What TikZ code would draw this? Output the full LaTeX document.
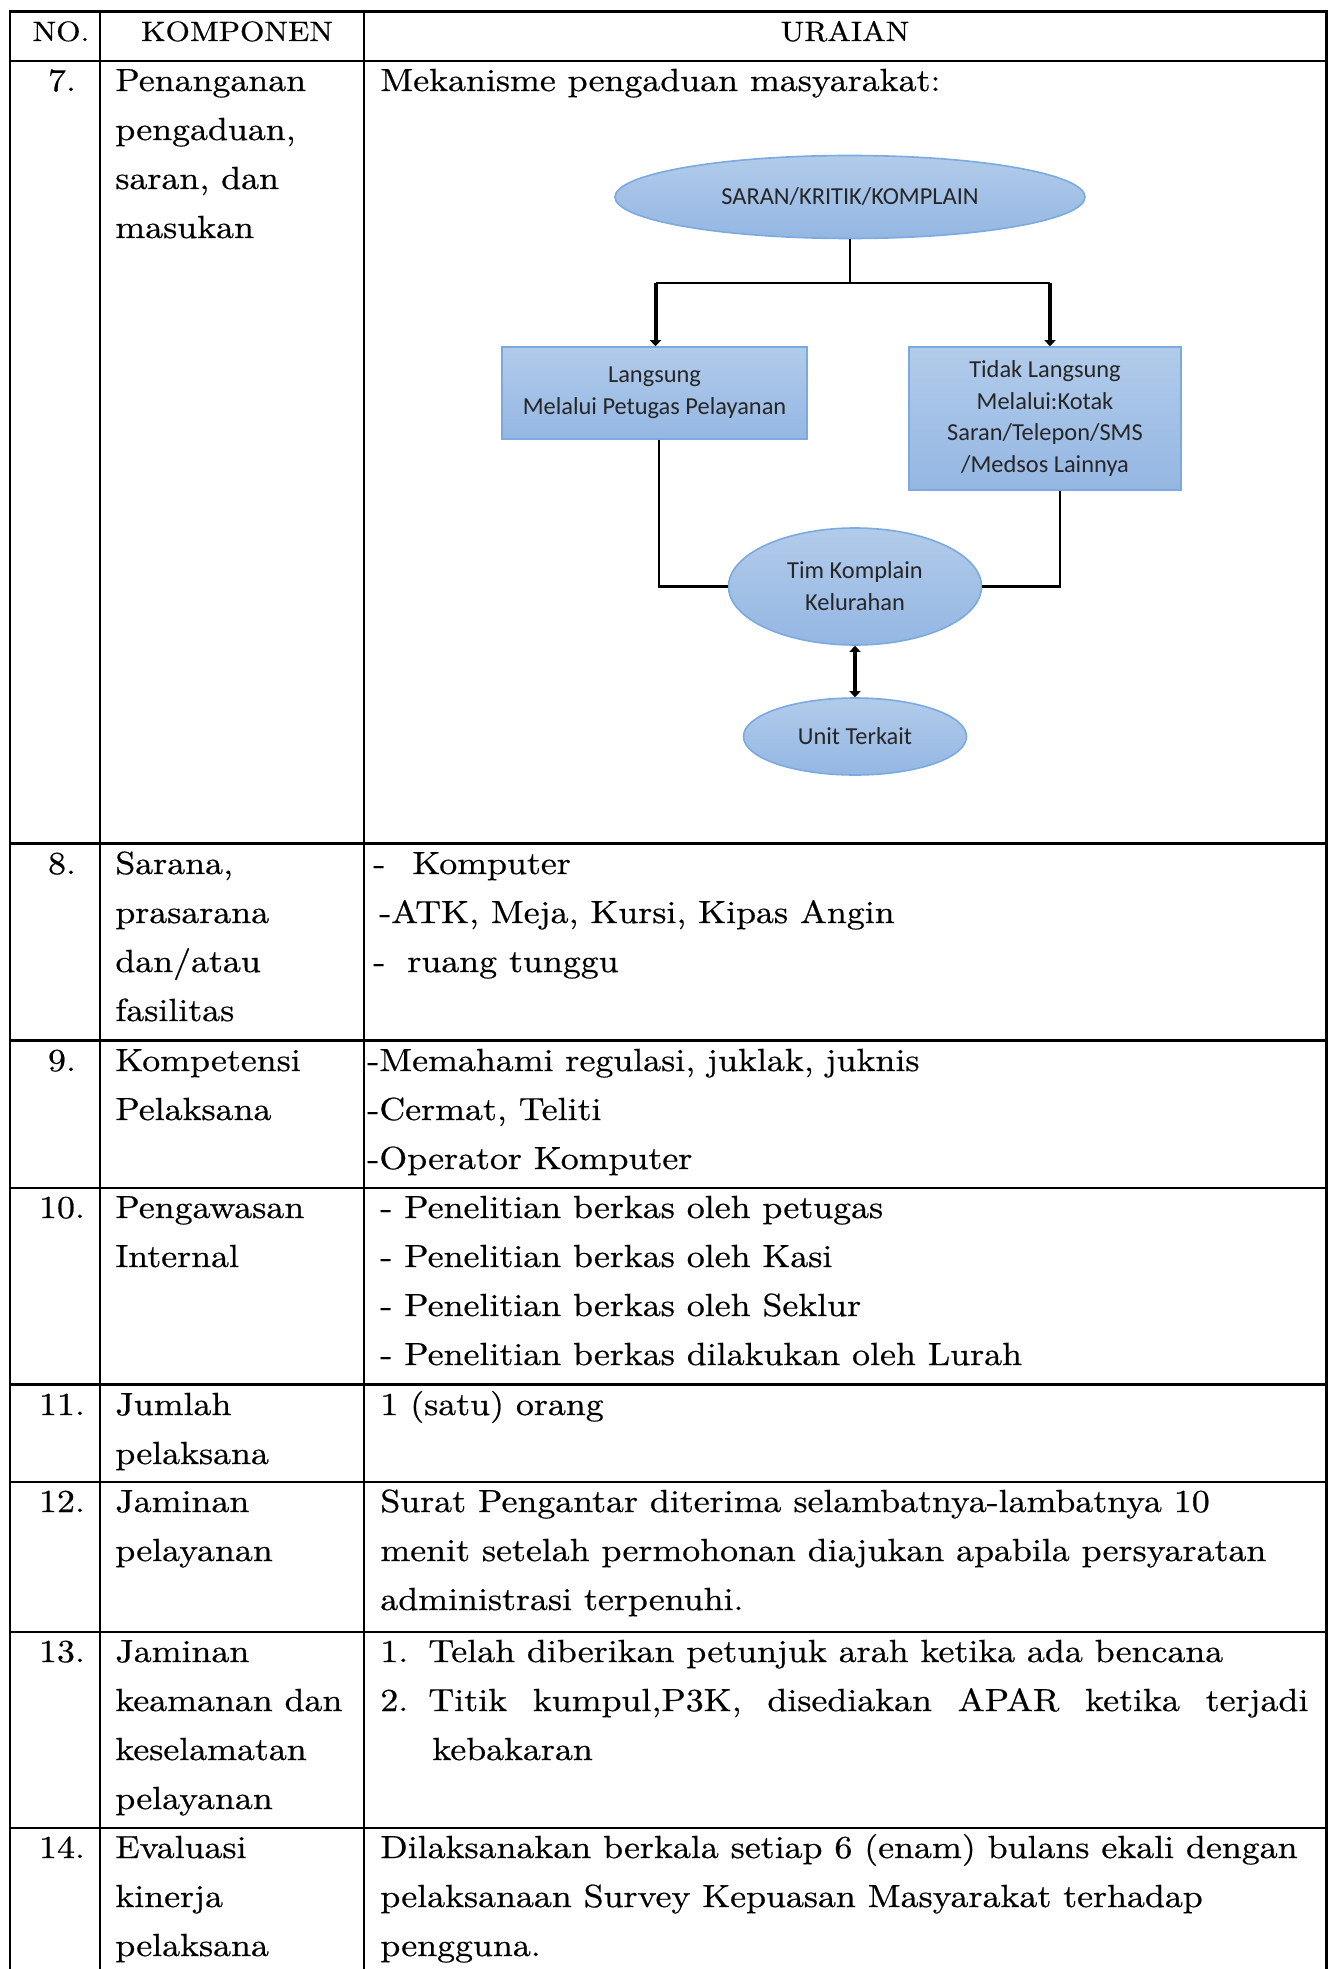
\documentclass[tikz,border=0pt]{standalone}
\usepackage{fontspec}
\setmainfont{lmroman10-regular.otf}[FakeStretch=1.12, RawFeature={embolden=0.6}]
\newfontfamily\chartfont{Carlito}
\usetikzlibrary{shapes.geometric,arrows.meta,shadings}

\definecolor{boxtop}{RGB}{178,203,234}
\definecolor{boxbot}{RGB}{148,183,227}
\definecolor{boxedge}{RGB}{122,170,224}

\tikzset{
  rule/.style={line width=1.3pt, black},
  body/.style={anchor=base west, inner sep=0pt, font=\fontsize{16}{24.5}\selectfont},
  bodyc/.style={body, anchor=base},
  head/.style={anchor=base, inner sep=0pt, font=\fontsize{14}{17}\selectfont},
  chart/.style={draw=boxedge, line width=0.8pt, top color=boxtop, bottom color=boxbot,
    align=center, inner sep=0pt, text=black!85,
    font=\chartfont\fontsize{12.2}{15.9}\selectfont},
  oval/.style={chart, ellipse},
  panel/.style={chart, rectangle},
  link/.style={line width=1.25pt, black},
  feed/.style={line width=2pt, black, -{Triangle[length=3pt,width=5.5pt]}},
  both/.style={line width=2pt, black, {Triangle[length=3pt,width=5.5pt]}-{Triangle[length=3pt,width=5.5pt]}},
}

\newcommand\celltext[4]{\node[body] (#1) at (#2,#3) {#4};}

\begin{document}
\begin{tikzpicture}[x=0.5pt,y=-0.5pt]
\useasboundingbox (0,0) rectangle (1328,1969);
\fill[white] (0,0) rectangle (1328,1969);

% ---- table rules ----
\draw[rule] (10,1969) -- (10,11.5) -- (1326.5,11.5) -- (1326.5,1969);
\draw[rule] (100,11.5) -- (100,1969);
\draw[rule] (364,11.5) -- (364,1969);
\foreach \yy in {61,843.5,1040.5,1188,1384.5,1482,1632,1828}
  \draw[rule] (10,\yy) -- (1326.5,\yy);

% ---- header ----
\node[head] (hno) at (61,41) {NO.};
\node[head] (hkomp) at (237,41) {KOMPONEN};
\node[head] (hurai) at (845,41) {URAIAN};

% ---- numbers ----
\node[bodyc] (n7) at (62,91) {7.};
\node[bodyc] (n8) at (62,874) {8.};
\node[bodyc] (n9) at (62,1071) {9.};
\node[bodyc] (n10) at (62,1218) {10.};
\node[bodyc] (n11) at (62,1415) {11.};
\node[bodyc] (n12) at (62,1512) {12.};
\node[bodyc] (n13) at (62,1662) {13.};
\node[bodyc] (n14) at (62,1858) {14.};

% ---- komponen column ----
\celltext{k7a}{115}{91}{Penanganan}
\celltext{k7b}{115}{140}{pengaduan,}
\celltext{k7c}{115}{189}{saran, dan}
\celltext{k7d}{115}{238}{masukan}
\celltext{k8a}{115}{874}{Sarana,}
\celltext{k8b}{115}{923}{prasarana}
\celltext{k8c}{115}{972}{dan/atau}
\celltext{k8d}{115}{1021}{fasilitas}
\celltext{k9a}{115}{1071}{Kompetensi}
\celltext{k9b}{115}{1120}{Pelaksana}
\celltext{k10a}{115}{1218}{Pengawasan}
\celltext{k10b}{115}{1267}{Internal}
\celltext{k11a}{115}{1415}{Jumlah}
\celltext{k11b}{115}{1464}{pelaksana}
\celltext{k12a}{115}{1512}{Jaminan}
\celltext{k12b}{115}{1561}{pelayanan}
\celltext{k13a}{115}{1662}{Jaminan}
\celltext{k13b}{115}{1711}{keamanan dan}
\celltext{k13c}{115}{1760}{keselamatan}
\celltext{k13d}{115}{1809}{pelayanan}
\celltext{k14a}{115}{1858}{Evaluasi}
\celltext{k14b}{115}{1907}{kinerja}
\celltext{k14c}{115}{1956}{pelaksana}

% ---- uraian column ----
\celltext{u7}{380}{91}{Mekanisme pengaduan masyarakat:}
\celltext{u8ad}{373}{874}{-}
\celltext{u8a}{412}{874}{Komputer}
\celltext{u8b}{379}{923}{-ATK, Meja, Kursi, Kipas Angin}
\celltext{u8cd}{373}{972}{-}
\celltext{u8c}{407}{972}{ruang tunggu}
\celltext{u9a}{367}{1071}{-Memahami regulasi, juklak, juknis}
\celltext{u9b}{367}{1120}{-Cermat, Teliti}
\celltext{u9c}{367}{1169}{-Operator Komputer}
\celltext{u10a}{380}{1218}{- Penelitian berkas oleh petugas}
\celltext{u10b}{380}{1267}{- Penelitian berkas oleh Kasi}
\celltext{u10c}{380}{1316}{- Penelitian berkas oleh Seklur}
\celltext{u10d}{380}{1365}{- Penelitian berkas dilakukan oleh Lurah}
\celltext{u11}{380}{1415}{1 (satu) orang}
\celltext{u12a}{380}{1512}{Surat Pengantar diterima selambatnya-lambatnya 10}
\celltext{u12b}{380}{1561}{menit setelah permohonan diajukan apabila persyaratan}
\celltext{u12c}{380}{1610}{administrasi terpenuhi.}
\celltext{u13an}{380}{1662}{1.}
\celltext{u13a}{428}{1662}{Telah diberikan petunjuk arah ketika ada bencana}
\celltext{u13bn}{380}{1711}{2.}
\celltext{u13b}{428}{1711}{\makebox[440pt][s]{Titik kumpul,P3K, disediakan APAR ketika terjadi}}
\celltext{u13c}{432}{1760}{kebakaran}
\celltext{u14a}{380}{1858}{Dilaksanakan berkala setiap 6 (enam) bulans ekali dengan}
\celltext{u14b}{380}{1907}{pelaksanaan Survey Kepuasan Masyarakat terhadap}
\celltext{u14c}{380}{1956}{pengguna.}

% ---- complaint flow chart ----
\node[oval, minimum width=235pt, minimum height=41.5pt] (saran) at (850,197) {SARAN/KRITIK/KOMPLAIN};
\node[panel, minimum width=152.5pt, minimum height=46pt] (lbox) at (654.5,393) {Langsung\\Melalui Petugas Pelayanan};
\node[panel, minimum width=136pt, minimum height=71.5pt] (rbox) at (1045,418.5) {Tidak Langsung\\Melalui:Kotak\\Saran/Telepon/SMS\\/Medsos Lainnya};
\node[oval, minimum width=126.5pt, minimum height=58.5pt] (tim) at (855,586.5) {Tim Komplain\\Kelurahan};
\node[oval, minimum width=111.5pt, minimum height=38.5pt] (unit) at (855,736.5) {Unit Terkait};

\coordinate (fork) at (850,283);
\draw[link] (saran.south) -- (fork);
\draw[link] ([xshift=0.5pt]lbox.north |- fork) -- ([xshift=2.5pt]rbox.north |- fork);
\draw[feed] ([xshift=0.5pt]lbox.north |- fork) -- ([xshift=0.5pt]lbox.north);
\draw[feed] ([xshift=2.5pt]rbox.north |- fork) -- ([xshift=2.5pt]rbox.north);
\draw[link] ([xshift=2.25pt]lbox.south) |- (tim.west);
\draw[link] ([xshift=7.5pt]rbox.south) |- (tim.east);
\draw[both] (tim.south) -- (unit.north);
\end{tikzpicture}
\end{document}
